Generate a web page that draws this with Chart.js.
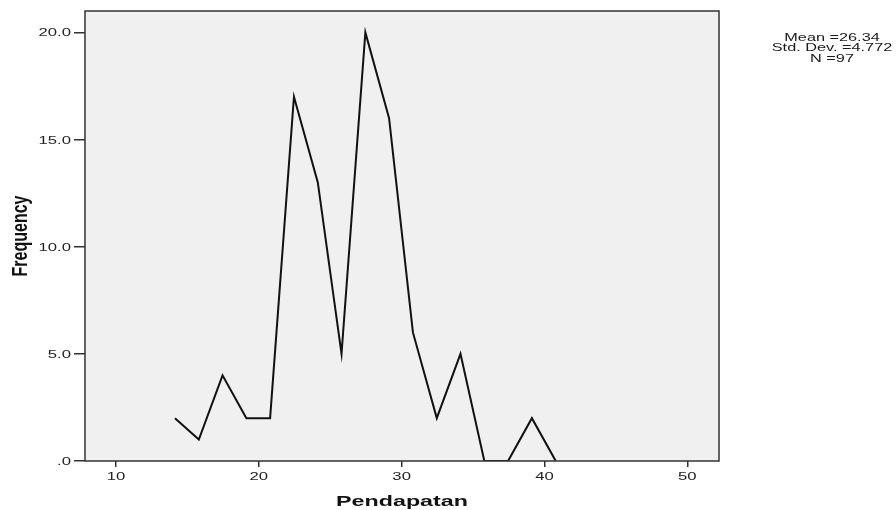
<!DOCTYPE html>
<html>
<head>
<meta charset="utf-8">
<title>Pendapatan - Frequency</title>
<script src="https://cdn.jsdelivr.net/npm/chart.js@4.4.1/dist/chart.umd.min.js"></script>
<style>
  html, body { margin: 0; padding: 0; background: #fff; }
  #wrap { position: relative; width: 896px; height: 510px; }
</style>
</head>
<body>
<div id="wrap"><canvas id="freq-chart"></canvas></div>
<script>
// ── Data ─────────────────────────────────────────────────────────────────────
const binMids     = [14.13, 15.80, 17.46, 19.13, 20.79, 22.46, 24.13, 25.79, 27.46,
                     29.12, 30.79, 32.46, 34.12, 35.79, 37.45, 39.12, 40.79];
const frequencies = [2, 1, 4, 2, 2, 17, 13, 5, 20, 16, 6, 2, 5, 0, 0, 2, 0];
const xTicks      = [10, 20, 30, 40, 50];
const yTicks      = [0, 5, 10, 15, 20];
const statsLines  = ['Mean =26.34', 'Std. Dev. =4.772', 'N =97'];
const xTitle      = 'Pendapatan';
const yTitle      = 'Frequency';

const X_MIN = 7.83, X_MAX = 52.22;
const Y_MIN = 0,    Y_MAX = 21;

const fmtX = v => String(v);
const fmtY = v => (v === 0 ? '.0' : v.toFixed(1));

// ── Helpers ──────────────────────────────────────────────────────────────────
// SPSS output is stretched sideways, so text is drawn with a horizontal scale
function stretchedText(ctx, text, x, y, o) {
  ctx.save();
  ctx.translate(x, y);
  ctx.scale(o.sx || 1, 1);
  if (o.rotate) ctx.rotate(o.rotate);
  ctx.font         = o.font;
  ctx.fillStyle    = o.color || '#111';
  ctx.textAlign    = o.align || 'center';
  ctx.textBaseline = 'alphabetic';
  ctx.fillText(text, 0, 0);
  ctx.restore();
}

// ── Plot frame / labels plugin ───────────────────────────────────────────────
const spssFrame = {
  id: 'spssFrame',
  beforeDraw(chart) {
    const { ctx, chartArea: a } = chart;
    ctx.save();
    ctx.fillStyle = '#f0f0f0';
    ctx.fillRect(a.left, a.top, a.right - a.left, a.bottom - a.top);
    ctx.restore();
  },
  afterDraw(chart) {
    const { ctx, chartArea: a, scales } = chart;
    ctx.save();
    ctx.strokeStyle = '#333';
    ctx.lineWidth = 1.5;
    ctx.strokeRect(a.left, a.top, a.right - a.left, a.bottom - a.top);
    ctx.restore();

    // tick labels, placed from the library's own scales
    const tickFont = '11.5px "Liberation Sans"';
    scales.x.ticks.forEach(t => {
      stretchedText(ctx, fmtX(t.value), scales.x.getPixelForValue(t.value), 480,
        { font: tickFont, sx: 1.45, color: '#222' });
    });
    scales.y.ticks.forEach(t => {
      stretchedText(ctx, fmtY(t.value), 71, scales.y.getPixelForValue(t.value) + 4,
        { font: tickFont, sx: 1.45, color: '#222', align: 'right' });
    });

    const midX = (a.left + a.right) / 2;
    const midY = (a.top + a.bottom) / 2;
    stretchedText(ctx, xTitle, midX, 506, { font: 'bold 15px "Liberation Sans"', sx: 1.55 });
    stretchedText(ctx, yTitle, 27, midY, { font: 'bold 16px "Liberation Sans"', sx: 1.4, rotate: -Math.PI / 2 });

    statsLines.forEach((line, i) => {
      stretchedText(ctx, line, 832, 40.5 + i * 10.5, { font: '10.5px "Liberation Sans"', sx: 1.55, color: '#1a1a1a' });
    });
  },
};

// ── Chart ────────────────────────────────────────────────────────────────────
new Chart(document.getElementById('freq-chart').getContext('2d'), {
  type: 'line',
  data: {
    datasets: [{
      data: binMids.map((x, i) => ({ x, y: frequencies[i] })),
      borderColor: '#111', borderWidth: 2,
      pointRadius: 0, tension: 0, fill: false,
    }],
  },
  options: {
    responsive: true, maintainAspectRatio: false, animation: false,
    layout: { padding: { top: 11, right: 177, left: 0, bottom: 0 } },
    plugins: { legend: { display: false }, tooltip: { enabled: false } },
    scales: {
      x: {
        type: 'linear', min: X_MIN, max: X_MAX,
        afterBuildTicks: s => { s.ticks = xTicks.map(value => ({ value })); },
        afterFit: s => { s.height = 49; },
        grid: { drawOnChartArea: false, drawTicks: true, tickLength: 6, color: '#333', lineWidth: 1.5 },
        border: { display: false },
        ticks: { display: false },
      },
      y: {
        type: 'linear', min: Y_MIN, max: Y_MAX,
        afterBuildTicks: s => { s.ticks = yTicks.map(value => ({ value })); },
        afterFit: s => { s.width = 85; },
        grid: { drawOnChartArea: false, drawTicks: true, tickLength: 11, color: '#333', lineWidth: 1.5 },
        border: { display: false },
        ticks: { display: false },
      },
    },
  },
  plugins: [spssFrame],
});
</script>
</body>
</html>
